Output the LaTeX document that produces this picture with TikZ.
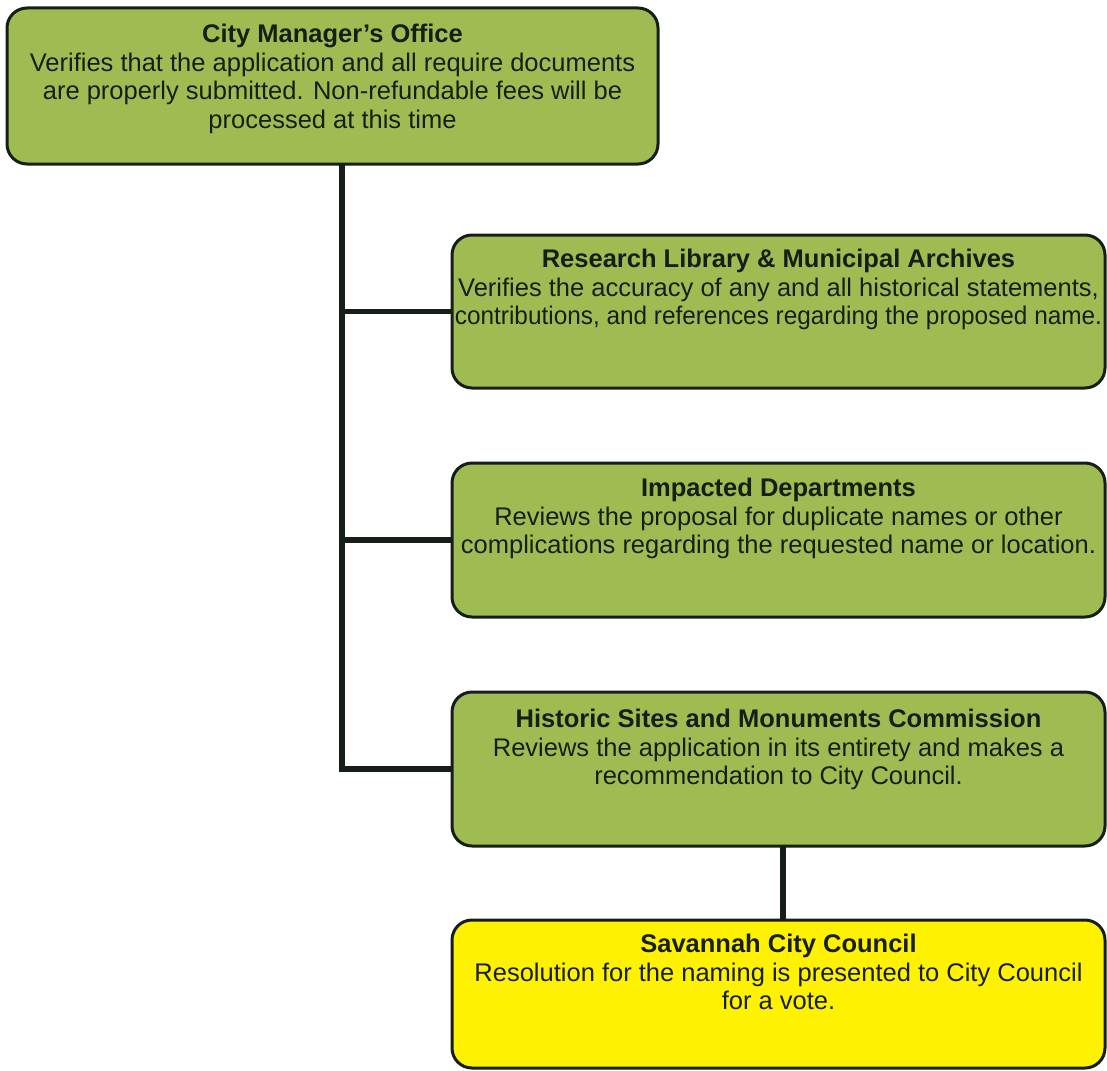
\documentclass[tikz,border=0pt]{standalone}
\usepackage{fontspec}
\setmainfont{Liberation Sans}
\definecolor{boxgreen}{RGB}{159,188,82}
\definecolor{boxyellow}{RGB}{255,242,0}
\definecolor{inkc}{RGB}{22,30,24}
\begin{document}
\begin{tikzpicture}[x=1pt,y=-1pt,
  box/.style={draw=inkc,line width=3pt,rounded corners=20pt,fill=boxgreen,inner sep=0pt,outer sep=0pt},
  ybox/.style={box,fill=boxyellow},
  txt/.style={anchor=north,align=center,inner sep=0pt,text=inkc,
     font=\fontsize{25.5}{28.5}\selectfont},
  conn/.style={draw=inkc,line width=5.5pt}]
\useasboundingbox (0,0) rectangle (1107,1070);
% boxes
\node[box,minimum width=651pt,minimum height=156pt] (b1) at (332.5,86) {};
\node[box,minimum width=653pt,minimum height=153pt] (b2) at (778.5,311.5) {};
\node[box,minimum width=653pt,minimum height=154pt] (b3) at (778.5,540) {};
\node[box,minimum width=653pt,minimum height=154pt] (b4) at (778.5,769) {};
\node[ybox,minimum width=653pt,minimum height=148pt] (b5) at (778.5,994) {};
% connectors
\coordinate (tr) at ([xshift=9.5pt]b1.south);
\draw[conn] (tr) |- (b4.west);
\draw[conn] (tr |- b2.west) -- (b2.west);
\draw[conn] (tr |- b3.west) -- (b3.west);
\draw[conn] ([xshift=4.5pt]b4.south) -- ([xshift=4.5pt]b5.north);
% texts
\node[txt] (t1) at ([yshift=-16pt]b1.north) {\textbf{City Manager's Office}\\Verifies that the application and all require documents\\are properly submitted. Non-refundable fees will be\\processed at this time};
\node[txt] (t2) at ([yshift=-14pt]b2.north) {\textbf{Research Library \& Municipal Archives}\\Verifies the accuracy of any and all historical statements,\\\scalebox{0.955}[1]{contributions, and references regarding the proposed name.}};
\node[txt] (t3) at ([yshift=-15pt]b3.north) {\textbf{Impacted Departments}\\Reviews the proposal for duplicate names or other\\complications regarding the requested name or location.};
\node[txt] (t4) at ([yshift=-17pt]b4.north) {\textbf{Historic Sites and Monuments Commission}\\Reviews the application in its entirety and makes a\\recommendation to City Council.};
\node[txt] (t5) at ([yshift=-14pt]b5.north) {\textbf{Savannah City Council}\\Resolution for the naming is presented to City Council\\for a vote.};
\end{tikzpicture}
\end{document}
